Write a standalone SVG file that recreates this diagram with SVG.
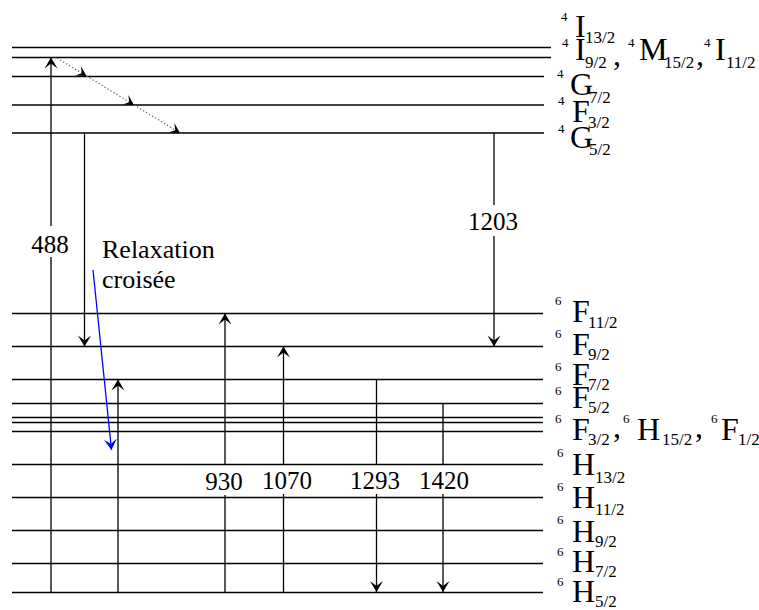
<svg xmlns="http://www.w3.org/2000/svg" width="759" height="610" viewBox="0 0 759 610">
<defs>
<marker id="ah" markerUnits="userSpaceOnUse" markerWidth="14" markerHeight="14" viewBox="-12 -7 13 14" refX="0" refY="0" orient="auto">
<path d="M0,0 L-11,-6.5 L-6,0 L-11,6.5 Z" fill="#000" stroke="none"/>
</marker>
<marker id="ahs" markerUnits="userSpaceOnUse" markerWidth="12" markerHeight="12" viewBox="-11 -6 12 12" refX="0" refY="0" orient="auto">
<path d="M0,0 L-10,-5.5 L-5.5,0 L-10,5.5 Z" fill="#000" stroke="none"/>
</marker>
<marker id="ahb" markerUnits="userSpaceOnUse" markerWidth="14" markerHeight="14" viewBox="-12 -7 13 14" refX="0" refY="0" orient="auto">
<path d="M0,0 L-11,-6.5 L-6,0 L-11,6.5 Z" fill="#00f" stroke="none"/>
</marker>
</defs>

<g id="levels" stroke="#000" stroke-width="1.3" fill="none">
<g id="level-4I13_2"><line x1="12" y1="47.5" x2="551" y2="47.5"/></g>
<g id="level-4I9_2"><line x1="12" y1="57.5" x2="551" y2="57.5"/></g>
<g id="level-4G7_2"><line x1="12" y1="76.5" x2="544" y2="76.5"/></g>
<g id="level-4F3_2"><line x1="12" y1="105" x2="544" y2="105"/></g>
<g id="level-4G5_2"><line x1="12" y1="133" x2="544" y2="133"/></g>
<g id="level-6F11_2"><line x1="12" y1="313.5" x2="543" y2="313.5"/></g>
<g id="level-6F9_2"><line x1="12" y1="346.5" x2="543" y2="346.5"/></g>
<g id="level-6F7_2"><line x1="12" y1="379.5" x2="543" y2="379.5"/></g>
<g id="level-6F5_2"><line x1="12" y1="403.5" x2="543" y2="403.5"/></g>
<g id="level-6F3_2-6H15_2-6F1_2">
<line x1="12" y1="417.5" x2="543" y2="417.5"/>
<line x1="12" y1="422.5" x2="543" y2="422.5"/>
<line x1="12" y1="431.5" x2="543" y2="431.5"/>
</g>
<g id="level-6H13_2"><line x1="12" y1="464.5" x2="543" y2="464.5"/></g>
<g id="level-6H11_2"><line x1="12" y1="497.5" x2="543" y2="497.5"/></g>
<g id="level-6H9_2"><line x1="12" y1="530.5" x2="543" y2="530.5"/></g>
<g id="level-6H7_2"><line x1="12" y1="563.5" x2="543" y2="563.5"/></g>
<g id="level-6H5_2"><line x1="12" y1="592.5" x2="543" y2="592.5"/></g>
</g>

<g id="level-labels" font-family="Liberation Serif" fill="#000">
<text id="lbl-4I13_2"><tspan font-size="13" x="561" y="21">4</tspan><tspan font-size="32" x="575" y="37">I</tspan><tspan font-size="17" x="585" y="43">13/2</tspan></text>
<text id="lbl-4I9_2"><tspan font-size="13" x="562" y="47">4</tspan><tspan font-size="32" x="575" y="60">I</tspan><tspan font-size="17" x="585" y="68">9/2</tspan><tspan font-size="32" x="613" y="65">,</tspan><tspan font-size="13" x="628" y="47">4</tspan><tspan font-size="32" x="639" y="60">M</tspan><tspan font-size="17" x="664" y="68">15/2</tspan><tspan font-size="32" x="696" y="65">,</tspan><tspan font-size="13" x="704" y="47">4</tspan><tspan font-size="32" x="715" y="60">I</tspan><tspan font-size="17" x="726" y="68">11/2</tspan></text>
<text id="lbl-4G7_2"><tspan font-size="13" x="557" y="78">4</tspan><tspan font-size="32" x="570" y="95">G</tspan><tspan font-size="17" x="589" y="103">7/2</tspan></text>
<text id="lbl-4F3_2"><tspan font-size="13" x="558" y="105">4</tspan><tspan font-size="32" x="572" y="122">F</tspan><tspan font-size="17" x="588" y="128">3/2</tspan></text>
<text id="lbl-4G5_2"><tspan font-size="13" x="558" y="133">4</tspan><tspan font-size="32" x="570" y="148">G</tspan><tspan font-size="17" x="589" y="155">5/2</tspan></text>
<text id="lbl-6F11_2"><tspan font-size="13" x="555" y="305">6</tspan><tspan font-size="32" x="572" y="322">F</tspan><tspan font-size="17" x="588" y="328">11/2</tspan></text>
<text id="lbl-6F9_2"><tspan font-size="13" x="555" y="338">6</tspan><tspan font-size="32" x="572" y="355">F</tspan><tspan font-size="17" x="588" y="360">9/2</tspan></text>
<text id="lbl-6F7_2"><tspan font-size="13" x="555" y="371">6</tspan><tspan font-size="32" x="572" y="385">F</tspan><tspan font-size="17" x="588" y="390">7/2</tspan></text>
<text id="lbl-6F5_2"><tspan font-size="13" x="555" y="395">6</tspan><tspan font-size="32" x="572" y="408">F</tspan><tspan font-size="17" x="588" y="413">5/2</tspan></text>
<text id="lbl-6F3_2"><tspan font-size="13" x="555" y="423">6</tspan><tspan font-size="32" x="572" y="440">F</tspan><tspan font-size="17" x="588" y="445">3/2</tspan><tspan font-size="32" x="613" y="437">,</tspan><tspan font-size="13" x="623" y="423">6</tspan><tspan font-size="32" x="637" y="440">H</tspan><tspan font-size="17" x="662" y="445">15/2</tspan><tspan font-size="32" x="695" y="437">,</tspan><tspan font-size="13" x="711" y="423">6</tspan><tspan font-size="32" x="721" y="440">F</tspan><tspan font-size="17" x="738" y="445">1/2</tspan></text>
<text id="lbl-6H13_2"><tspan font-size="13" x="557" y="457">6</tspan><tspan font-size="32" x="572" y="475">H</tspan><tspan font-size="17" x="595" y="483">13/2</tspan></text>
<text id="lbl-6H11_2"><tspan font-size="13" x="557" y="491">6</tspan><tspan font-size="32" x="572" y="508">H</tspan><tspan font-size="17" x="595" y="515">11/2</tspan></text>
<text id="lbl-6H9_2"><tspan font-size="13" x="557" y="524">6</tspan><tspan font-size="32" x="572" y="542">H</tspan><tspan font-size="17" x="595" y="547">9/2</tspan></text>
<text id="lbl-6H7_2"><tspan font-size="13" x="557" y="556">6</tspan><tspan font-size="32" x="572" y="572">H</tspan><tspan font-size="17" x="595" y="577">7/2</tspan></text>
<text id="lbl-6H5_2"><tspan font-size="13" x="557" y="586">6</tspan><tspan font-size="32" x="572" y="602">H</tspan><tspan font-size="17" x="595" y="607">5/2</tspan></text>
</g>

<g id="connectors" stroke="#000" stroke-width="1.3" fill="none">
<line x1="51" y1="592" x2="51" y2="257"/>
<line x1="51" y1="226" x2="51" y2="57.5" marker-end="url(#ah)"/>
<g stroke="#666" stroke-width="1.1" stroke-dasharray="1.5,2">
<path d="M57,58 L86.5,76" marker-end="url(#ahs)"/>
<path d="M86.5,76 L134,105" marker-end="url(#ahs)"/>
<path d="M134,105 L180,133" marker-end="url(#ahs)"/>
</g>
<line x1="84.5" y1="133" x2="84.5" y2="346.5" marker-end="url(#ah)"/>
<line x1="118" y1="592" x2="118" y2="379.5" marker-end="url(#ah)"/>
<line x1="93" y1="270" x2="111.5" y2="450" stroke="#00f" marker-end="url(#ahb)"/>
<line x1="494" y1="133" x2="494" y2="205"/>
<line x1="494" y1="236" x2="494" y2="346.5" marker-end="url(#ah)"/>
<line x1="225" y1="592" x2="225" y2="495"/>
<line x1="225" y1="465" x2="225" y2="313.5" marker-end="url(#ah)"/>
<line x1="283.5" y1="592" x2="283.5" y2="494"/>
<line x1="283.5" y1="465" x2="283.5" y2="346.5" marker-end="url(#ah)"/>
<line x1="376.5" y1="379.5" x2="376.5" y2="465"/>
<line x1="376.5" y1="494" x2="376.5" y2="592" marker-end="url(#ah)"/>
<line x1="443" y1="403.5" x2="443" y2="465"/>
<line x1="443" y1="494" x2="443" y2="592" marker-end="url(#ah)"/>
</g>

<g id="labels" font-family="Liberation Serif" font-size="25" fill="#000">
<text x="50" y="253" text-anchor="middle">488</text>
<text x="102" y="258" font-size="26">Relaxation</text>
<text x="102" y="288" font-size="26">croisée</text>
<text x="493" y="230" text-anchor="middle">1203</text>
<text x="224" y="490" text-anchor="middle">930</text>
<text x="287" y="489" text-anchor="middle">1070</text>
<text x="375" y="489" text-anchor="middle">1293</text>
<text x="444" y="489" text-anchor="middle">1420</text>
</g>
</svg>
